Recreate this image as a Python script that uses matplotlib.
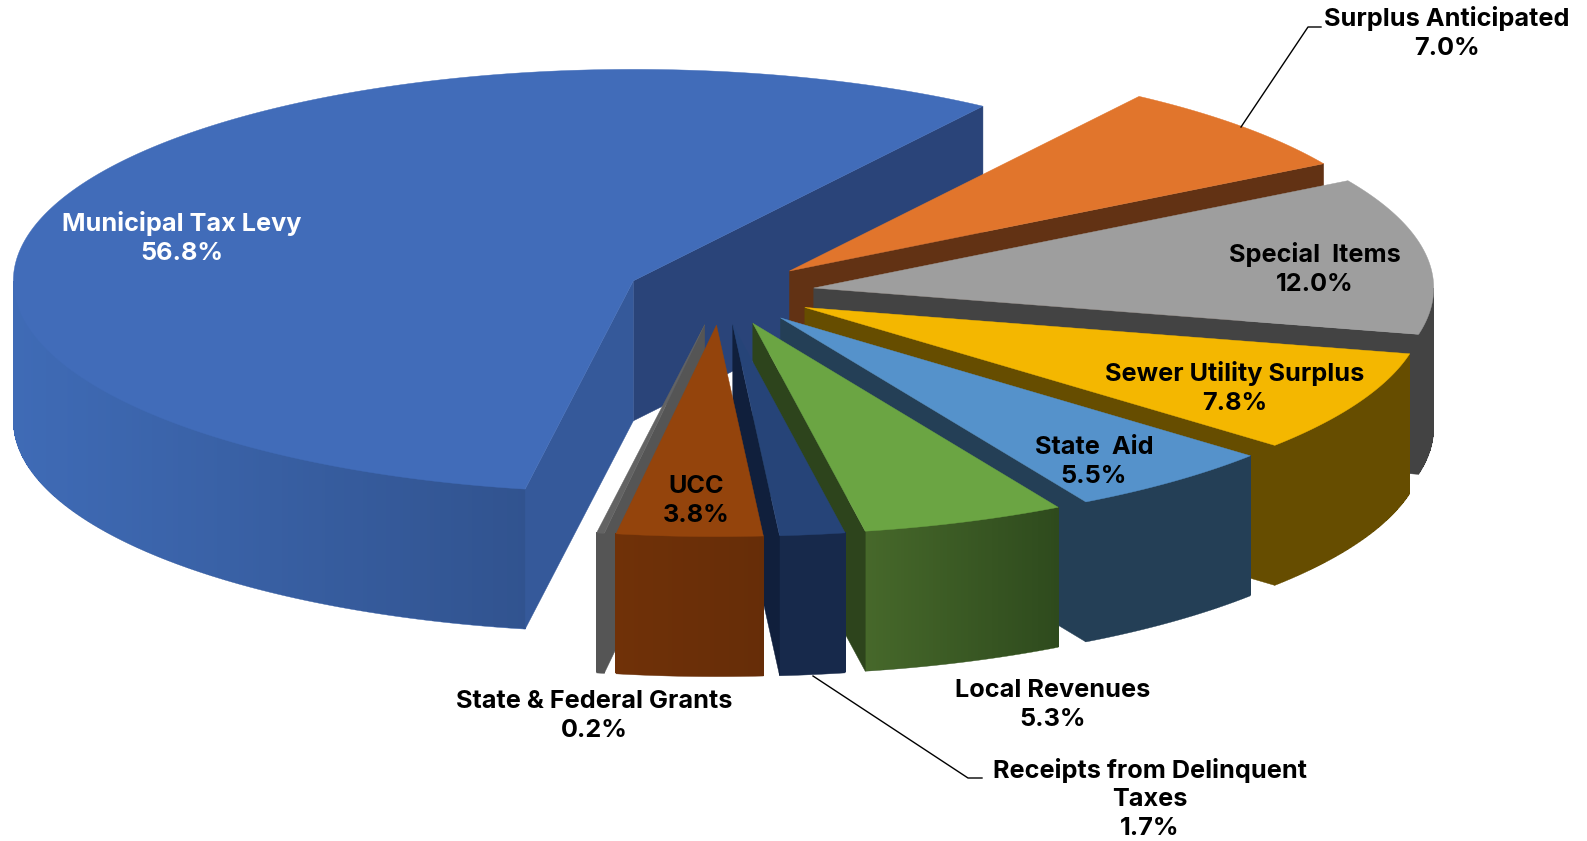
import matplotlib
matplotlib.use("Agg")
import matplotlib.pyplot as plt
import matplotlib.colors as mcolors
from matplotlib.patches import Polygon
import numpy as np

plt.rcParams["font.family"] = ["Inter", "DejaVu Sans"]

names = ["Municipal Tax Levy", "Surplus Anticipated", "Special  Items", "Sewer Utility Surplus",
         "State  Aid", "Local Revenues", "Receipts from Delinquent\nTaxes", "UCC", "State & Federal Grants"]
values = [56.8, 7.0, 12.0, 7.8, 5.5, 5.3, 1.7, 3.8, 0.2]

top_colors = ["#416CB9", "#E1752C", "#9E9E9E", "#F4B700", "#5592CB", "#6BA543", "#264478", "#94440C", "#636363"]
side_left = ["#3F6BB6", "#623214", "#434343", "#664D00", "#243F56", "#46682A", "#17294B", "#703108", "#555555"]
side_right = ["#31538F", "#623214", "#434343", "#664D00", "#243F56", "#2E4A1D", "#17294B", "#662D08", "#555555"]
# wall on the clockwise end of a slice, and wall on its other end
wall_end = ["#2A4479", "#623214", "#434343", "#664D00", "#243F56", "#2D441C", "#101F3C", "#5A2A08", "#555555"]
wall_start = ["#35599A", "#623214", "#434343", "#664D00", "#243F56", "#2D441C", "#101F3C", "#5A2A08", "#555555"]
text_colors = ["white", "black", "black", "black", "black", "black", "black", "black", "black"]

# label centres in picture pixels
label_x = [182, 1447, 1315, 1235, 1094, 1053, 1150, 696, 594]
label_y = [238, 33, 269, 388, 462, 705, 799, 501, 716]

# pie geometry
cx, cy = 720.6, 293
rx, ry = 620, 211.5
depth = 140
explode = 0.152
start_angle = 259.95

fig = plt.figure(figsize=(15.87, 8.41), dpi=100)
ax = fig.add_axes([0, 0, 1, 1])
ax.set_xlim(0, 1587)
ax.set_ylim(841, 0)
ax.axis("off")

sweep = np.array(values) / sum(values) * 360
ends = start_angle - np.cumsum(sweep)
starts = ends + sweep


def draw_slice(i):
    t1, t0 = starts[i], ends[i]
    mid = np.radians((t0 + t1) / 2)
    ox = cx + rx * explode * np.cos(mid)
    oy = cy - ry * explode * np.sin(mid)

    t = np.radians(np.linspace(t0, t1, max(int(sweep[i] * 3), 4)))
    x = ox + rx * np.cos(t)
    y = oy - ry * np.sin(t)

    # outer side, only where it faces the viewer
    front = np.sin(t) < 0
    if front.any():
        fx, fy = x[front], y[front]
        order = np.argsort(fx)
        fx, fy = fx[order], fy[order]
        c0 = np.array(mcolors.to_rgb(side_left[i]))
        c1 = np.array(mcolors.to_rgb(side_right[i]))
        # smooth base shape gives the clean outer edge, bands go on top without seams
        base = np.vstack([np.column_stack([fx, fy]), np.column_stack([fx[::-1], fy[::-1] + depth])])
        ax.add_patch(Polygon(base, closed=True, fc=(c0 + c1) / 2, ec=(c0 + c1) / 2, lw=0.3))
        span = max(fx[-1] - fx[0], 1)
        for k in range(len(fx) - 1):
            c = c0 + (c1 - c0) * (fx[k] - fx[0]) / span
            k2 = min(k + 2, len(fx) - 1)
            ax.add_patch(Polygon([(fx[k], fy[k]), (fx[k2], fy[k2]),
                                  (fx[k2], fy[k2] + depth - 1), (fx[k], fy[k] + depth - 1)],
                                 closed=True, fc=c, ec="none", antialiased=False))

    # cut walls
    for a, color, sign in [(t0, wall_end[i], 1), (t1, wall_start[i], -1)]:
        a = np.radians(a)
        if sign * np.cos(a) > 0:
            ex, ey = ox + rx * np.cos(a), oy - ry * np.sin(a)
            ax.add_patch(Polygon([(ox, oy), (ex, ey), (ex, ey + depth), (ox, oy + depth)],
                                 closed=True, fc=color, ec=color, lw=0.3))

    # top
    pts = np.vstack([[ox, oy], np.column_stack([x, y])])
    ax.add_patch(Polygon(pts, closed=True, fc=top_colors[i], ec=top_colors[i], lw=0.3))


for i in [0, 1, 2, 3, 4, 5, 6, 8, 7]:
    draw_slice(i)

# leader lines
ax.plot([1241, 1308, 1321], [127, 27, 27], color="black", lw=1)
ax.plot([813, 968, 982], [676, 778, 778], color="black", lw=1)

for i in range(len(names)):
    ax.text(label_x[i], label_y[i], f"{names[i]}\n{values[i]:.1f}%", color=text_colors[i],
            ha="center", va="center", fontsize=18.2, fontweight="bold", linespacing=1.33)

fig.savefig("out.png", dpi=100)
